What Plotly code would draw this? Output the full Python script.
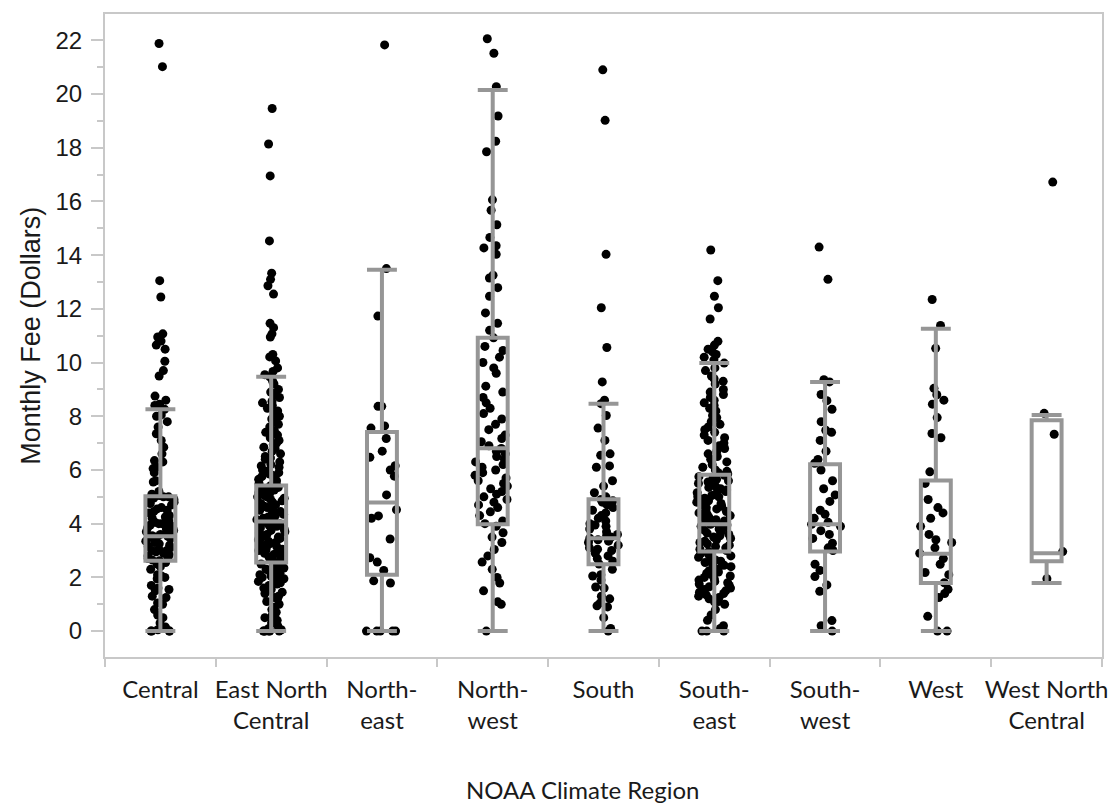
import plotly.graph_objects as go

categories = ["Central", "East North<br>Central", "North-<br>east", "North-<br>west", "South",
              "South-<br>east", "South-<br>west", "West", "West North<br>Central"]

central = [21.88, 21.02, 13.05, 12.44, 11.07, 10.95, 10.8, 10.65, 10.5, 10.05, 9.7, 9.5, 8.75, 8.6,
           8.45, 8.4, 8.26, 8.05, 8.0, 7.8, 7.6, 7.35, 7.1, 6.85, 6.6, 6.35, 6.3, 6.1, 6.05, 5.9,
           5.6, 5.55, 5.2, 5.1, 5.05, 5.0, 5.0,
           4.95, 4.9, 4.85, 4.8, 4.75, 4.7, 4.6, 4.55, 4.5, 4.45, 4.4, 4.3, 4.25, 4.2, 4.1, 4.05,
           4.0, 4.0, 3.95, 3.9, 3.85, 3.8, 3.75, 3.7, 3.65, 3.6, 3.55, 3.53, 3.5, 3.5, 3.45, 3.4,
           3.35, 3.3, 3.25, 3.2, 3.15, 3.1, 3.05, 3.0, 3.0, 2.95, 2.9, 2.85, 2.8, 2.75, 2.7, 2.65,
           2.62, 2.55, 2.5, 2.4, 2.3, 2.1, 2.05, 2.0, 2.0, 1.95, 1.7, 1.6, 1.55, 1.5, 1.3, 1.25,
           1.05, 1.0, 0.8, 0.6, 0.5, 0.3, 0.15, 0.05, 0, 0, 0, 0]

east_north_central = [19.46, 18.14, 16.95, 14.53, 13.33, 13.1, 12.86, 12.55, 11.46, 11.3, 11.07,
                      10.95, 10.3, 10.21, 10.06, 9.8, 9.67, 9.55,
                      9.47, 9.3, 9.2, 9.0, 8.9, 8.8, 8.7, 8.55, 8.5, 8.4, 8.3, 8.2, 8.1, 8.0, 7.9,
                      7.8, 7.7, 7.6, 7.5, 7.45, 7.4, 7.3, 7.2, 7.1, 7.0, 6.95, 6.85, 6.8, 6.7, 6.6,
                      6.5, 6.45, 6.4, 6.3, 6.2, 6.15, 6.1, 6.0, 5.95, 5.9, 5.85, 5.8, 5.75, 5.7,
                      5.65, 5.6, 5.55, 5.5, 5.45,
                      5.4, 5.35, 5.3, 5.25, 5.2, 5.15, 5.1, 5.05, 5.0, 5.0, 4.95, 4.9, 4.85, 4.8,
                      4.75, 4.7, 4.65, 4.6, 4.55, 4.5, 4.5, 4.45, 4.4, 4.35, 4.3, 4.25, 4.2, 4.15,
                      4.1, 4.08, 4.05, 4.0, 4.0, 3.95, 3.9, 3.85, 3.8, 3.75, 3.7, 3.65, 3.6, 3.55,
                      3.5, 3.5, 3.45, 3.4, 3.35, 3.3, 3.25, 3.2, 3.15, 3.1, 3.05, 3.0, 3.0, 2.95,
                      2.9, 2.85, 2.8, 2.75, 2.7, 2.65, 2.6, 2.55,
                      2.5, 2.45, 2.4, 2.35, 2.3, 2.25, 2.2, 2.15, 2.1, 2.05, 2.0, 2.0, 1.95, 1.9,
                      1.85, 1.8, 1.75, 1.7, 1.6, 1.55, 1.5, 1.45, 1.4, 1.3, 1.25, 1.2, 1.1, 1.0,
                      0.9, 0.8, 0.7, 0.6, 0.5, 0.4, 0.3, 0.2, 0.1, 0.05, 0, 0, 0, 0, 0, 0]

northeast = [21.83, 13.5, 11.73, 8.37, 8.37, 7.64, 7.56, 7.17, 6.7, 6.47, 6.16, 6.0, 5.77, 5.07,
             4.52, 4.29, 4.2, 3.43, 2.73, 2.57, 2.26, 1.87, 1.79, 0, 0, 0, 0, 0]

northwest = [22.06, 21.52, 20.27, 19.18, 18.24, 17.85, 16.06, 15.67, 15.13, 14.66, 14.35, 14.27,
             14.03, 13.25, 13.15, 12.79, 12.47, 11.85, 11.46, 11.2, 10.92, 10.6, 10.45, 10.2,
             10.0, 9.8, 9.6, 9.12, 8.9, 8.7, 8.5, 8.3, 8.1, 7.9, 7.7, 7.5, 7.3, 7.17, 7.05, 6.9,
             6.8, 6.7, 6.6, 6.5, 6.4, 6.3, 6.2, 6.1, 6.0, 5.9, 5.8, 5.7, 5.6, 5.5, 5.4, 5.3,
             5.2, 5.1, 5.0, 4.9, 4.8, 4.7, 4.6, 4.44, 4.3, 4.1, 4.0, 3.9, 3.66, 3.5, 3.3, 3.04,
             2.8, 2.57, 2.3, 2.0, 1.79, 1.5, 1.09, 1.0, 0]

south = [20.9, 19.02, 14.03, 12.04, 10.56, 9.28, 8.6, 8.47, 8.03, 7.56, 7.1, 6.6, 6.55, 6.15, 6.1,
         5.6, 5.4, 5.15, 5.0,
         4.9, 4.85, 4.8, 4.7, 4.6, 4.5, 4.4, 4.3, 4.2, 4.1, 4.0, 3.95, 3.9, 3.8, 3.7, 3.6, 3.55,
         3.5, 3.46, 3.4, 3.35, 3.3, 3.2, 3.1, 3.05, 3.0, 2.9, 2.8, 2.7, 2.6, 2.5,
         2.3, 2.1, 2.05, 1.9, 1.64, 1.6, 1.3, 1.2, 1.05, 0.94, 0.9, 0.5, 0.1, 0]

southeast = [14.19, 13.05, 12.47, 12.04, 11.62, 10.79, 10.65, 10.5, 10.4, 10.3, 10.2, 10.1,
             9.98, 9.8, 9.7, 9.5, 9.4, 9.3, 9.2, 9.0, 8.9, 8.81, 8.7, 8.6, 8.5, 8.4, 8.3, 8.2,
             8.03, 7.95, 7.8, 7.7, 7.6, 7.5, 7.4, 7.3, 7.2, 7.1, 7.0, 6.9, 6.8, 6.7, 6.6, 6.5,
             6.4, 6.3, 6.2, 6.1, 6.0, 5.95, 5.9, 5.85,
             5.8, 5.75, 5.7, 5.65, 5.6, 5.55, 5.5, 5.45, 5.4, 5.35, 5.3, 5.25, 5.2, 5.15, 5.1,
             5.05, 5.0, 5.0, 4.95, 4.9, 4.85, 4.8, 4.75, 4.7, 4.65, 4.6, 4.55, 4.5, 4.45, 4.4,
             4.35, 4.3, 4.25, 4.2, 4.15, 4.1, 4.05, 4.0, 3.98, 3.95, 3.9, 3.85, 3.8, 3.75, 3.7,
             3.65, 3.6, 3.55, 3.5, 3.45, 3.4, 3.35, 3.3, 3.25, 3.2, 3.15, 3.1, 3.05, 3.0, 2.96,
             2.9, 2.85, 2.8, 2.75, 2.7, 2.65, 2.6, 2.55, 2.5, 2.45, 2.4, 2.35, 2.3, 2.25, 2.2,
             2.15, 2.1, 2.05, 2.0, 1.95, 1.9, 1.85, 1.8, 1.75, 1.7, 1.65, 1.6, 1.55, 1.5, 1.45,
             1.4, 1.35, 1.3, 1.25, 1.2, 1.1, 1.09, 1.0, 0.8, 0.6, 0.4, 0.2, 0.1, 0, 0, 0]

southwest = [14.3, 13.1, 9.36, 9.28, 8.81, 8.58, 8.26, 7.8, 7.48, 7.4, 7.1, 6.7, 6.39, 6.25, 6.0,
             5.6, 5.3, 5.07, 4.83, 4.5, 4.35, 4.2, 4.05, 3.98, 3.9, 3.74, 3.6, 3.45, 3.27, 3.1,
             3.0, 2.49, 2.26, 2.03, 1.72, 1.48, 0.39, 0.2, 0]

west = [12.35, 11.38, 10.53, 9.04, 8.8, 8.6, 8.45, 7.95, 7.36, 7.2, 5.93, 5.5, 4.9, 4.6, 4.4,
        4.2, 3.9, 3.6, 3.4, 3.3, 3.1, 2.9, 2.7, 2.49, 2.18, 2.1, 1.8, 1.56, 1.4, 1.25, 0.55, 0, 0]

west_north_central = [16.72, 8.11, 7.33, 2.96, 1.95]

# Box statistics
q1 = [2.62, 2.55, 2.10, 3.98, 2.49, 2.96, 2.96, 1.79, 2.60]
median = [3.53, 4.08, 4.79, 6.81, 3.46, 3.98, 3.98, 2.88, 2.90]
q3 = [5.02, 5.42, 7.41, 10.92, 4.91, 5.82, 6.21, 5.61, 7.85]
lower_fence = [0, 0, 0, 0, 0, 0, 0, 0, 1.79]
upper_fence = [8.26, 9.47, 13.46, 20.15, 8.47, 9.98, 9.28, 11.26, 8.05]

samples = [central, east_north_central, northeast, northwest, south, southeast,
           southwest, west, west_north_central]

GREY = "rgb(150,150,150)"
AXIS = "rgb(200,200,200)"

fig = go.Figure()
# points (drawn first, beneath the boxes)
fig.add_trace(go.Box(
    x=categories, y=samples, q1=q1, median=median, q3=q3,
    lowerfence=lower_fence, upperfence=upper_fence,
    boxpoints="all", jitter=1, pointpos=0, width=0.32,
    marker=dict(color="black", size=9, line=dict(width=0)),
    line=dict(width=0, color="rgba(0,0,0,0)"), fillcolor="rgba(0,0,0,0)",
    whiskerwidth=1, hoverinfo="skip", showlegend=False,
))
# boxes on top
fig.add_trace(go.Box(
    x=categories, q1=q1, median=median, q3=q3,
    lowerfence=lower_fence, upperfence=upper_fence,
    boxpoints=False, width=0.27, whiskerwidth=1,
    line=dict(width=4, color=GREY), fillcolor="rgba(0,0,0,0)",
    hoverinfo="skip", showlegend=False,
))

fig.update_layout(
    width=1120, height=805,
    margin=dict(l=105, r=17, t=12, b=148),
    paper_bgcolor="white", plot_bgcolor="white",
    boxmode="overlay", showlegend=False,
    xaxis=dict(
        type="category", range=[-0.5, 8.5], tickson="boundaries", tickangle=0,
        ticks="outside", ticklen=8, tickwidth=1.5, tickcolor=AXIS,
        showline=True, linecolor=AXIS, linewidth=2, mirror=True,
        showgrid=False, zeroline=False, ticklabelstandoff=10,
        tickfont=dict(family="Lato", size=24, color="#1a1a1a"),
    ),
    yaxis=dict(
        range=[-0.965, 22.98], tick0=0, dtick=2,
        ticks="outside", ticklen=12, tickwidth=1.5, tickcolor=AXIS,
        minor=dict(ticks="outside", ticklen=6, dtick=1, tickwidth=1.5, tickcolor=AXIS),
        showline=True, linecolor=AXIS, linewidth=2, mirror=True,
        showgrid=False, zeroline=False, ticklabelstandoff=4,
        tickfont=dict(family="Liberation Sans", size=24, color="#1a1a1a"),
    ),
    annotations=[
        dict(text="NOAA Climate Region", xref="paper", yref="paper", x=0.479, y=-0.206,
             xanchor="center", yanchor="middle", showarrow=False,
             font=dict(family="Lato", size=24, color="#1a1a1a")),
        dict(text="Monthly Fee (Dollars)", xref="paper", yref="paper", x=-0.075, y=0.5,
             xanchor="center", yanchor="middle", textangle=-90, showarrow=False,
             font=dict(family="Liberation Sans", size=27, color="#1a1a1a")),
    ],
)

fig.write_html("out.html")
